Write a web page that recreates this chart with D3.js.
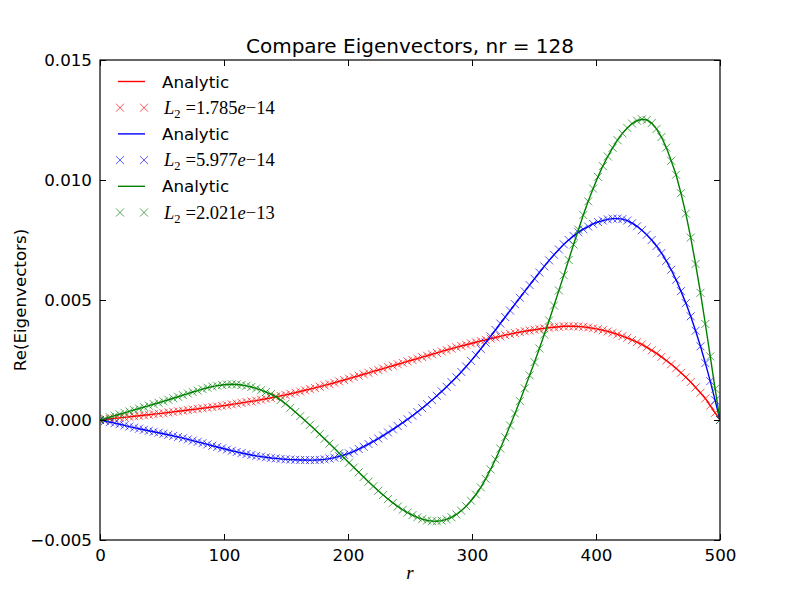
<!DOCTYPE html>
<html>
<head>
<meta charset="utf-8">
<script src="https://cdn.jsdelivr.net/npm/d3@7"></script>
<style>
  body { margin: 0; background: #ffffff; }
  svg { display: block; }
</style>
</head>
<body>
<svg id="chart" width="800" height="600"></svg>
<script>
// ---------------- DATA ----------------
const chartTitle = "Compare Eigenvectors, nr = 128";
const yAxisLabel = "Re(Eigenvectors)";
const xAxisLabel = "r";

// radial grid positions (128 points from 0 to 500)
const rValues = [0,3.94,7.87,11.81,15.75,19.69,23.62,27.56,31.5,35.43,39.37,43.31,47.24,51.18,55.12,59.06,62.99,66.93,70.87,74.8,78.74,82.68,86.61,90.55,94.49,98.43,102.36,106.3,110.24,114.17,118.11,122.05,125.98,129.92,133.86,137.8,141.73,145.67,149.61,153.54,157.48,161.42,165.35,169.29,173.23,177.17,181.1,185.04,188.98,192.91,196.85,200.79,204.72,208.66,212.6,216.54,220.47,224.41,228.35,232.28,236.22,240.16,244.09,248.03,251.97,255.91,259.84,263.78,267.72,271.65,275.59,279.53,283.46,287.4,291.34,295.28,299.21,303.15,307.09,311.02,314.96,318.9,322.83,326.77,330.71,334.65,338.58,342.52,346.46,350.39,354.33,358.27,362.2,366.14,370.08,374.02,377.95,381.89,385.83,389.76,393.7,397.64,401.57,405.51,409.45,413.39,417.32,421.26,425.2,429.13,433.07,437.01,440.94,444.88,448.82,452.76,456.69,460.63,464.57,468.5,472.44,476.38,480.31,484.25,488.19,492.13,496.06,500];

// first eigenvector (red)
const redValues = [0,0.022e-3,0.044e-3,0.066e-3,0.088e-3,0.110e-3,0.132e-3,0.154e-3,0.176e-3,0.198e-3,
0.220e-3,0.243e-3,0.265e-3,0.288e-3,0.313e-3,0.338e-3,0.363e-3,0.388e-3,0.414e-3,0.439e-3,
0.464e-3,0.489e-3,0.514e-3,0.540e-3,0.565e-3,0.590e-3,0.617e-3,0.650e-3,0.682e-3,0.714e-3,
0.745e-3,0.776e-3,0.808e-3,0.847e-3,0.885e-3,0.923e-3,0.964e-3,1.005e-3,1.046e-3,1.093e-3,
1.140e-3,1.187e-3,1.238e-3,1.288e-3,1.337e-3,1.389e-3,1.443e-3,1.496e-3,1.552e-3,1.609e-3,
1.666e-3,1.725e-3,1.785e-3,1.845e-3,1.905e-3,1.965e-3,2.024e-3,2.083e-3,2.143e-3,2.203e-3,
2.262e-3,2.322e-3,2.381e-3,2.440e-3,2.500e-3,2.559e-3,2.619e-3,2.678e-3,2.738e-3,2.797e-3,
2.859e-3,2.915e-3,2.972e-3,3.029e-3,3.083e-3,3.136e-3,3.189e-3,3.240e-3,3.290e-3,3.341e-3,
3.391e-3,3.439e-3,3.486e-3,3.535e-3,3.579e-3,3.623e-3,3.662e-3,3.697e-3,3.731e-3,3.763e-3,
3.791e-3,3.820e-3,3.848e-3,3.867e-3,3.886e-3,3.905e-3,3.910e-3,3.905e-3,3.895e-3,3.882e-3,
3.855e-3,3.820e-3,3.786e-3,3.740e-3,3.690e-3,3.635e-3,3.565e-3,3.495e-3,3.425e-3,3.335e-3,
3.243e-3,3.151e-3,3.030e-3,2.904e-3,2.778e-3,2.632e-3,2.477e-3,2.323e-3,2.152e-3,1.965e-3,
1.779e-3,1.582e-3,1.358e-3,1.135e-3,0.899e-3,0.600e-3,0.300e-3,0];

// second eigenvector (blue)
const blueValues = [0,-0.044e-3,-0.088e-3,-0.132e-3,-0.178e-3,-0.224e-3,-0.274e-3,-0.319e-3,-0.363e-3,-0.407e-3,
-0.450e-3,-0.491e-3,-0.531e-3,-0.573e-3,-0.617e-3,-0.661e-3,-0.706e-3,-0.757e-3,-0.807e-3,-0.857e-3,
-0.910e-3,-0.964e-3,-1.018e-3,-1.072e-3,-1.125e-3,-1.179e-3,-1.230e-3,-1.281e-3,-1.331e-3,-1.377e-3,
-1.418e-3,-1.459e-3,-1.497e-3,-1.525e-3,-1.554e-3,-1.581e-3,-1.600e-3,-1.619e-3,-1.638e-3,-1.649e-3,
-1.658e-3,-1.665e-3,-1.669e-3,-1.670e-3,-1.668e-3,-1.660e-3,-1.640e-3,-1.607e-3,-1.568e-3,-1.514e-3,
-1.455e-3,-1.388e-3,-1.303e-3,-1.210e-3,-1.113e-3,-1.003e-3,-0.890e-3,-0.773e-3,-0.649e-3,-0.520e-3,
-0.390e-3,-0.254e-3,-0.113e-3,0.029e-3,0.177e-3,0.333e-3,0.492e-3,0.657e-3,0.830e-3,1.008e-3,
1.192e-3,1.383e-3,1.580e-3,1.785e-3,2.002e-3,2.230e-3,2.462e-3,2.707e-3,2.963e-3,3.223e-3,
3.486e-3,3.752e-3,4.020e-3,4.290e-3,4.558e-3,4.826e-3,5.093e-3,5.358e-3,5.622e-3,5.886e-3,
6.144e-3,6.400e-3,6.650e-3,6.885e-3,7.106e-3,7.320e-3,7.500e-3,7.670e-3,7.820e-3,7.950e-3,
8.060e-3,8.170e-3,8.250e-3,8.310e-3,8.360e-3,8.390e-3,8.390e-3,8.370e-3,8.310e-3,8.200e-3,
8.070e-3,7.910e-3,7.720e-3,7.500e-3,7.250e-3,6.960e-3,6.630e-3,6.260e-3,5.840e-3,5.370e-3,
4.870e-3,4.320e-3,3.720e-3,3.070e-3,2.370e-3,1.620e-3,0.820e-3,0];

// third eigenvector (green)
const greenValues = [0,0.060e-3,0.120e-3,0.180e-3,0.239e-3,0.299e-3,0.359e-3,0.419e-3,0.478e-3,0.539e-3,
0.598e-3,0.658e-3,0.718e-3,0.779e-3,0.842e-3,0.905e-3,0.968e-3,1.035e-3,1.101e-3,1.167e-3,
1.227e-3,1.287e-3,1.345e-3,1.393e-3,1.430e-3,1.460e-3,1.480e-3,1.488e-3,1.482e-3,1.459e-3,
1.424e-3,1.375e-3,1.315e-3,1.245e-3,1.165e-3,1.080e-3,0.975e-3,0.835e-3,0.680e-3,0.510e-3,
0.335e-3,0.160e-3,-0.020e-3,-0.205e-3,-0.395e-3,-0.590e-3,-0.785e-3,-0.983e-3,-1.182e-3,-1.382e-3,
-1.582e-3,-1.781e-3,-1.980e-3,-2.178e-3,-2.375e-3,-2.570e-3,-2.760e-3,-2.945e-3,-3.125e-3,-3.295e-3,
-3.455e-3,-3.605e-3,-3.740e-3,-3.860e-3,-3.965e-3,-4.055e-3,-4.130e-3,-4.185e-3,-4.215e-3,-4.220e-3,
-4.195e-3,-4.140e-3,-4.055e-3,-3.935e-3,-3.780e-3,-3.590e-3,-3.365e-3,-3.105e-3,-2.810e-3,-2.450e-3,
-2.060e-3,-1.640e-3,-1.190e-3,-0.720e-3,-0.230e-3,0.270e-3,0.790e-3,1.320e-3,1.860e-3,2.410e-3,
2.980e-3,3.560e-3,4.150e-3,4.770e-3,5.400e-3,6.030e-3,6.670e-3,7.310e-3,7.930e-3,8.540e-3,
9.110e-3,9.640e-3,10.130e-3,10.580e-3,10.980e-3,11.340e-3,11.660e-3,11.940e-3,12.170e-3,12.350e-3,
12.470e-3,12.530e-3,12.500e-3,12.370e-3,12.130e-3,11.790e-3,11.350e-3,10.800e-3,10.220e-3,9.450e-3,
8.600e-3,7.600e-3,6.500e-3,5.300e-3,4.000e-3,2.650e-3,1.300e-3,0];

const seriesColors = ["#ff0000", "#0000ff", "#008000"];
const lineLabel = "Analytic";
const l2Mantissas = ["1.785", "5.977", "2.021"];
const l2Exponents = ["14", "14", "13"];
const xTickValues = [0, 100, 200, 300, 400, 500];
const yTickValues = [-0.005, 0.000, 0.005, 0.010, 0.015];

// ---------------- CHART ----------------
const svg = d3.select("#chart");
const W = 800, H = 600;
const plot = { left: 100, right: 720, top: 60, bottom: 540 };

svg.append("rect").attr("width", W).attr("height", H).attr("fill", "#ffffff");

const x = d3.scaleLinear().domain([0, 500]).range([plot.left, plot.right]);
const y = d3.scaleLinear().domain([-0.005, 0.015]).range([plot.bottom, plot.top]);

svg.append("defs").append("clipPath").attr("id", "clip")
  .append("rect")
  .attr("x", plot.left).attr("y", plot.top)
  .attr("width", plot.right - plot.left).attr("height", plot.bottom - plot.top);

const allSeries = [redValues, blueValues, greenValues];
const dataGroup = svg.append("g").attr("clip-path", "url(#clip)");

const line = d3.line().x((d, i) => x(rValues[i])).y(d => y(d));
const markerPath = "M-4,-4L4,4M-4,4L4,-4";

allSeries.forEach((vals, s) => {
  dataGroup.append("path")
    .datum(vals)
    .attr("d", line)
    .attr("fill", "none")
    .attr("stroke", seriesColors[s])
    .attr("stroke-width", 1.4);
  dataGroup.append("g")
    .selectAll("path")
    .data(vals)
    .join("path")
    .attr("transform", (d, i) => `translate(${x(rValues[i])},${y(d)})`)
    .attr("d", markerPath)
    .attr("fill", "none")
    .attr("stroke", seriesColors[s])
    .attr("stroke-opacity", 0.75)
    .attr("stroke-width", 0.9);
});

// axes (ticks inside on all four sides)
const fontSans = "'DejaVu Sans', sans-serif";
const tickLen = 6;
const fmt = d3.format(".3f");

const gBottom = svg.append("g").attr("transform", `translate(0,${plot.bottom})`)
  .call(d3.axisBottom(x).tickValues(xTickValues).tickSize(-tickLen).tickPadding(9).tickFormat(d3.format("d")));
const gLeft = svg.append("g").attr("transform", `translate(${plot.left},0)`)
  .call(d3.axisLeft(y).tickValues(yTickValues).tickSize(-tickLen).tickPadding(8).tickFormat(fmt));
const gTop = svg.append("g").attr("transform", `translate(0,${plot.top})`)
  .call(d3.axisTop(x).tickValues(xTickValues).tickSize(-tickLen).tickFormat(""));
const gRight = svg.append("g").attr("transform", `translate(${plot.right},0)`)
  .call(d3.axisRight(y).tickValues(yTickValues).tickSize(-tickLen).tickFormat(""));

[gBottom, gLeft, gTop, gRight].forEach(g => {
  g.select(".domain").remove();
  g.selectAll(".tick line").attr("stroke", "#000").attr("stroke-width", 1);
  g.selectAll("text").attr("font-family", fontSans).attr("font-size", "16.7px").attr("fill", "#000");
});
gBottom.selectAll("text").attr("dy", "0.71em");
gLeft.selectAll("text").attr("dy", "0.30em");

// frame
svg.append("rect")
  .attr("x", plot.left).attr("y", plot.top)
  .attr("width", plot.right - plot.left).attr("height", plot.bottom - plot.top)
  .attr("fill", "none").attr("stroke", "#000").attr("stroke-width", 1.2);

// title and labels
svg.append("text")
  .attr("x", (plot.left + plot.right) / 2).attr("y", 53)
  .attr("text-anchor", "middle")
  .attr("font-family", fontSans).attr("font-size", "20px")
  .text(chartTitle);

svg.append("text")
  .attr("x", (plot.left + plot.right) / 2).attr("y", 579)
  .attr("text-anchor", "middle")
  .attr("font-family", "'Liberation Serif', serif").attr("font-style", "italic").attr("font-size", "19px")
  .text(xAxisLabel);

svg.append("text")
  .attr("transform", `translate(26,${(plot.top + plot.bottom) / 2}) rotate(-90)`)
  .attr("text-anchor", "middle")
  .attr("font-family", fontSans).attr("font-size", "16.7px")
  .text(yAxisLabel);

// legend (no frame)
const legend = svg.append("g");
const rowY0 = 81.5, rowStep = 26.2;
const hx0 = 120, hx1 = 144, textX = 162;
seriesColors.forEach((c, s) => {
  const yLine = rowY0 + rowStep * (2 * s);
  const yMark = rowY0 + rowStep * (2 * s + 1);
  legend.append("line")
    .attr("x1", hx0 - 2).attr("x2", hx1 + 1).attr("y1", yLine).attr("y2", yLine)
    .attr("stroke", c).attr("stroke-width", 1.4);
  legend.append("text")
    .attr("x", textX).attr("y", yLine).attr("dy", "0.36em")
    .attr("font-family", fontSans).attr("font-size", "16.7px")
    .text(lineLabel);
  [hx0, hx1].forEach(hx => {
    legend.append("path")
      .attr("transform", `translate(${hx},${yMark})`)
      .attr("d", markerPath)
      .attr("fill", "none").attr("stroke", c)
      .attr("stroke-opacity", 0.75).attr("stroke-width", 0.9);
  });
  const t = legend.append("text")
    .attr("x", textX + 2).attr("y", yMark).attr("dy", "0.33em")
    .attr("font-family", "'Liberation Serif', serif").attr("font-size", "18.5px");
  t.append("tspan").attr("font-style", "italic").text("L");
  t.append("tspan").attr("font-size", "12.5px").attr("dy", "4").text("2");
  t.append("tspan").attr("dy", "-4").attr("dx", "5").text("=" + l2Mantissas[s]);
  t.append("tspan").attr("font-style", "italic").text("e");
  t.append("tspan").text("\u2212" + l2Exponents[s]);
});
</script>
</body>
</html>
